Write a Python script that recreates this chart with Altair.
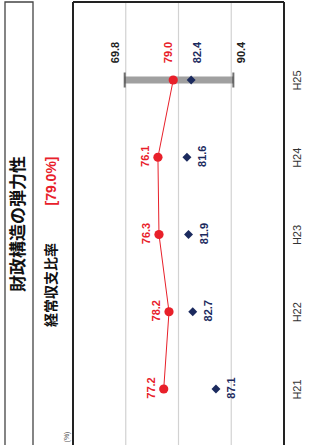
import altair as alt
import pandas as pd

# --- data -------------------------------------------------------------------
years = ["H21", "H22", "H23", "H24", "H25"]
ratio = [77.2, 78.2, 76.3, 76.1, 79.0]          # 経常収支比率 (this city)
similar_avg = [87.1, 82.7, 81.9, 81.6, 82.4]    # similar-municipality average
range_year = "H25"
range_min = 69.8
range_max = 90.4
grid_values = [70, 80, 90]
value_domain = [60, 100]

title_text = "財政構造の弾力性"
metric_name = "経常収支比率"
unit_text = "(%)"

# --- style ------------------------------------------------------------------
RED = "#e8202a"
NAVY = "#1b2a5e"
GREY_BAR = "#a0a0a0"
BG = "#faf7c8"
NUM_FONT = "Liberation Sans"
JP_FONT = "Noto Sans CJK JP"

W, H = 211, 443

df = pd.DataFrame({"year": years, "ratio": ratio, "avg": similar_avg})
rng = pd.DataFrame({"year": [range_year], "lo": [range_min], "hi": [range_max]})
ends = pd.DataFrame({"year": [range_year, range_year], "v": [range_min, range_max]})
grid_df = pd.DataFrame({"g": grid_values})
one = pd.DataFrame({"k": [0]})

x_scale = alt.Scale(domain=value_domain, nice=False, zero=False)
y_scale = alt.Scale(type="point", domain=years[::-1], range=[78, 387], padding=0)

y_axis = alt.Axis(orient="right", labelAngle=270, labelAlign="center",
                  labelBaseline="middle", labelPadding=13, ticks=False,
                  domain=False, grid=False, title=None, labelFont=NUM_FONT,
                  labelFontSize=11, labelColor="#333333")


def X(field):
    return alt.X(field, scale=x_scale, axis=None, title=None)


Y = alt.Y("year:N", scale=y_scale, axis=y_axis, sort=years[::-1], title=None)

# vertical gridlines at the value ticks
grid = alt.Chart(grid_df).mark_rule(color="#d2d2d2", strokeWidth=1.2).encode(
    x=X("g:Q"), y=alt.value(0), y2=alt.value(H + 10))

# min–max band of similar municipalities
bar = alt.Chart(rng).mark_rule(color=GREY_BAR, strokeWidth=7).encode(
    x=X("lo:Q"), x2="hi:Q", y=Y)
caps = alt.Chart(ends).mark_tick(color="#333333", thickness=2, size=15,
                                 orient="vertical").encode(x=X("v:Q"), y=Y)

line = alt.Chart(df).mark_line(color=RED, strokeWidth=1).encode(
    x=X("ratio:Q"), y=Y, order="year:N")
dots = alt.Chart(df).mark_point(shape="circle", filled=True, size=85,
                                color=RED, opacity=1).encode(x=X("ratio:Q"), y=Y)
diamonds = alt.Chart(df).mark_point(shape="diamond", filled=True, size=80,
                                    color=NAVY, opacity=1).encode(x=X("avg:Q"), y=Y)

lbl = dict(angle=270, align="center", baseline="middle", font=NUM_FONT,
           fontSize=11, fontWeight="bold")

early = df[df["year"] != range_year]
last = df[df["year"] == range_year]

red_lbl = alt.Chart(early).mark_text(color=RED, dx=1, dy=-12, **lbl).encode(
    x=X("ratio:Q"), y=Y, text=alt.Text("ratio:Q", format=".1f"))
navy_lbl = alt.Chart(early).mark_text(color=NAVY, dx=1, dy=16, **lbl).encode(
    x=X("avg:Q"), y=Y, text=alt.Text("avg:Q", format=".1f"))
red_last = alt.Chart(last).mark_text(color=RED, dx=27.5, dy=-4.5, **lbl).encode(
    x=X("ratio:Q"), y=Y, text=alt.Text("ratio:Q", format=".1f"))
navy_last = alt.Chart(last).mark_text(color=NAVY, dx=27.5, dy=6.5, **lbl).encode(
    x=X("avg:Q"), y=Y, text=alt.Text("avg:Q", format=".1f"))
min_lbl = alt.Chart(rng).mark_text(color="#222222", dx=27.5, dy=-9, **lbl).encode(
    x=X("lo:Q"), y=Y, text=alt.Text("lo:Q", format=".1f"))
max_lbl = alt.Chart(rng).mark_text(color="#222222", dx=27.5, dy=8.5, **lbl).encode(
    x=X("hi:Q"), y=Y, text=alt.Text("hi:Q", format=".1f"))

# plot frame (left, right, top)
frame_l = alt.Chart(one).mark_rule(color="#222222", strokeWidth=2).encode(
    x=alt.value(0), y=alt.value(0), y2=alt.value(H + 10))
frame_r = alt.Chart(one).mark_rule(color="#222222", strokeWidth=2).encode(
    x=alt.value(W), y=alt.value(0), y2=alt.value(H + 10))
frame_t = alt.Chart(one).mark_rule(color="#222222", strokeWidth=2).encode(
    x=alt.value(0), x2=alt.value(W), y=alt.value(0))

# title panel on the left
title_box = alt.Chart(one).mark_rect(fill="white", stroke="#444444",
                                     strokeWidth=1.3).encode(
    x=alt.value(-68), x2=alt.value(-40), y=alt.value(0), y2=alt.value(H + 10))
title = alt.Chart(pd.DataFrame({"t": [title_text]})).mark_text(
    angle=270, align="center", baseline="middle", font=JP_FONT, fontSize=17,
    fontWeight="bold", color="#111111").encode(
    text="t:N", x=alt.value(-54), y=alt.value(222))
name = alt.Chart(pd.DataFrame({"t": [metric_name]})).mark_text(
    angle=270, align="center", baseline="middle", font=JP_FONT, fontSize=14,
    fontWeight="bold", color="#111111").encode(
    text="t:N", x=alt.value(-21.5), y=alt.value(283))
latest = alt.Chart(pd.DataFrame({"t": [f"[{ratio[-1]:.1f}%]"]})).mark_text(
    angle=270, align="center", baseline="middle", font=NUM_FONT, fontSize=14,
    fontWeight="bold", color=RED).encode(
    text="t:N", x=alt.value(-21.5), y=alt.value(179))
unit = alt.Chart(pd.DataFrame({"t": [unit_text]})).mark_text(
    angle=270, align="center", baseline="middle", font=NUM_FONT, fontSize=7,
    color="#555555").encode(
    text="t:N", x=alt.value(-6.5), y=alt.value(435))

chart = alt.layer(
    grid, bar, caps, line, diamonds, dots,
    red_lbl, navy_lbl, red_last, navy_last, min_lbl, max_lbl,
    frame_l, frame_r, frame_t,
    title_box, title, name, latest, unit,
).properties(
    width=W, height=H,
    padding={"left": 73, "top": 2, "right": 36, "bottom": 0},
    autosize=alt.AutoSizeParams(type="none"),
).configure_view(stroke=None, fill=BG).configure(background="white")

chart.save("out.html", embed_options={"renderer": "svg", "actions": False})
